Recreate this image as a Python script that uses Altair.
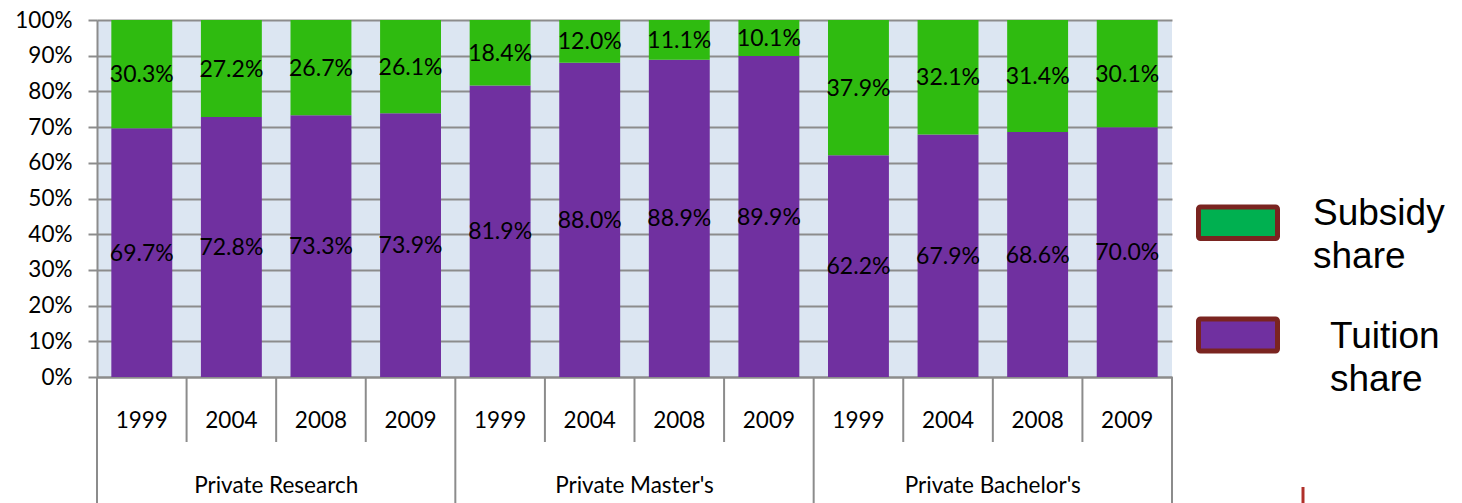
import altair as alt
import pandas as pd

groups = ["Private Research", "Private Master's", "Private Bachelor's"]
years = ["1999", "2004", "2008", "2009"]
tuition = [69.7, 72.8, 73.3, 73.9, 81.9, 88.0, 88.9, 89.9, 62.2, 67.9, 68.6, 70.0]
subsidy = [30.3, 27.2, 26.7, 26.1, 18.4, 12.0, 11.1, 10.1, 37.9, 32.1, 31.4, 30.1]
series = ["Tuition share", "Subsidy share"]
legend_order = ["Subsidy share", "Tuition share"]
y_ticks = [0.0, 0.1, 0.2, 0.3, 0.4, 0.5, 0.6, 0.7, 0.8, 0.9, 1.0]

BAR_COLORS = ["#7030a0", "#2fbb10"]
LEG_COLORS = {"Subsidy share": "#00b050", "Tuition share": "#7030a0"}
GRAY = "#8c8c8c"
FONT = "Lato"

rows = []
for g_i, g in enumerate(groups):
    for y_i, yr in enumerate(years):
        idx = g_i * len(years) + y_i
        rows.append(dict(group=g, year=yr, idx=idx, series=series[0], value=tuition[idx], order=0))
        rows.append(dict(group=g, year=yr, idx=idx, series=series[1], value=subsidy[idx], order=1))
df = pd.DataFrame(rows)

ncat = len(groups) * len(years)
xs = alt.Scale(domain=[0, ncat], nice=False, zero=False)
ys = alt.Scale(domain=[0, 1], nice=False)

x_axis = alt.Axis(labels=False, ticks=False, grid=False, title=None,
                  domainColor=GRAY, domainWidth=2)
y_axis = alt.Axis(
    values=y_ticks, format=".0%", title=None,
    labelFont=FONT, labelFontSize=22.5, labelColor="black", labelPadding=16,
    labelOverlap=False, labelBound=False, labelFlush=False,
    tickSize=9, tickColor=GRAY, tickWidth=2,
    domainColor=GRAY, domainWidth=2, gridColor=GRAY, gridWidth=2)

stacked = alt.Chart(df).transform_stack(
    stack="value", groupby=["idx"], as_=["v0", "v1"], offset="normalize",
    sort=[alt.SortField("order", order="ascending")]
).transform_calculate(
    xa="datum.idx + 0.16", xb="datum.idx + 0.84", xc="datum.idx + 0.5",
    mid="(datum.v0 + datum.v1) / 2",
    label="format(datum.value, '.1f') + '%'"
)

bars = stacked.mark_rect().encode(
    x=alt.X("xa:Q", scale=xs, axis=x_axis),
    x2="xb:Q",
    y=alt.Y("v0:Q", scale=ys, axis=y_axis),
    y2="v1:Q",
    color=alt.Color("series:N", scale=alt.Scale(domain=series, range=BAR_COLORS), legend=None),
)

labels = stacked.mark_text(font=FONT, fontSize=23, color="black", baseline="middle", dy=1).encode(
    x=alt.X("xc:Q", scale=xs, axis=x_axis), y=alt.Y("mid:Q", scale=ys, axis=y_axis), text="label:N"
)

year_labels = stacked.transform_filter(alt.datum.order == 0).mark_text(
    font=FONT, fontSize=22.5, color="black", baseline="alphabetic"
).encode(x=alt.X("xc:Q", scale=xs, axis=x_axis), y=alt.value(408), text="year:N")

gdf = pd.DataFrame({"group": groups, "gi": list(range(len(groups)))})
group_labels = alt.Chart(gdf).transform_calculate(
    gc=f"datum.gi * {len(years)} + {len(years) / 2}"
).mark_text(font=FONT, fontSize=22.5, color="black", baseline="alphabetic").encode(
    x=alt.X("gc:Q", scale=xs, axis=x_axis), y=alt.value(472.5), text="group:N"
)

year_seps = pd.DataFrame({"pos": [i for i in range(ncat + 1) if i % len(years) != 0]})
group_seps = pd.DataFrame({"pos": [i for i in range(ncat + 1) if i % len(years) == 0]})
ysep = alt.Chart(year_seps).mark_rule(color=GRAY, strokeWidth=2).encode(
    x=alt.X("pos:Q", scale=xs, axis=x_axis), y=alt.value(357), y2=alt.value(422)
)
gsep = alt.Chart(group_seps).mark_rule(color=GRAY, strokeWidth=2).encode(
    x=alt.X("pos:Q", scale=xs, axis=x_axis), y=alt.value(357), y2=alt.value(490)
)

legend_layers = []
leg_pos = {"Subsidy share": (187, 218.5, 1216, 205), "Tuition share": (299, 331, 1233, 328)}
for name in legend_order:
    y0, y1, tx, ty = leg_pos[name]
    ldf = pd.DataFrame({"series": [name], "text": [name.replace(" ", "\n")]})
    legend_layers.append(
        alt.Chart(ldf).mark_rect(fill=LEG_COLORS[name], stroke="#7a2420", strokeWidth=5,
                                 cornerRadius=2).encode(
            x=alt.value(1101.5), x2=alt.value(1180.5), y=alt.value(y0), y2=alt.value(y1)
        )
    )
    legend_layers.append(
        alt.Chart(ldf).mark_text(font="Liberation Sans", fontSize=37, lineHeight=43,
                                 align="left", baseline="alphabetic", lineBreak="\n",
                                 color="black").encode(
            x=alt.value(tx), y=alt.value(ty), text="text:N"
        )
    )

# cropped logo fragment at the bottom-right corner (only a red divider bar is visible)
logo = alt.Chart(pd.DataFrame({"k": [0]})).mark_rule(color="#b0302a", strokeWidth=3).encode(
    x=alt.value(1206), y=alt.value(467), y2=alt.value(490)
)

chart = alt.layer(bars, labels, year_labels, group_labels, ysep, gsep, *legend_layers, logo).properties(
    width=1075, height=357,
    padding={"left": 97, "top": 20, "right": 290, "bottom": 126},
    autosize=alt.AutoSizeParams(type="none"),
    background="white",
).configure_view(fill="#dce6f2", stroke=None)

chart.save("out.html", embed_options={"renderer": "svg", "actions": False})
